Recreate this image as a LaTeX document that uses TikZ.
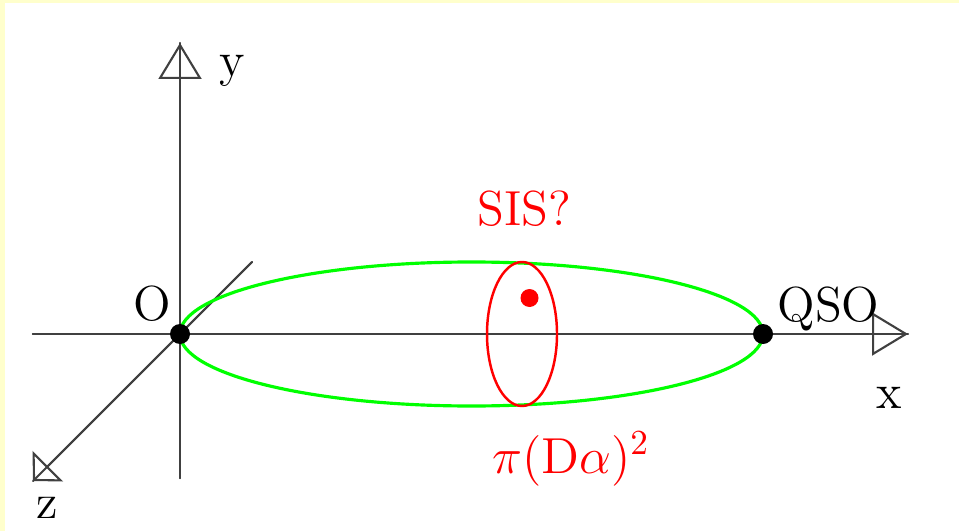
\documentclass[tikz,border=0pt]{standalone}
\usepackage{tikz}
\usetikzlibrary{arrows.meta}
\usepackage{xcolor}
\definecolor{paleyellow}{RGB}{255,255,204}

\begin{document}
\begin{tikzpicture}[font=\fontsize{14}{17}\selectfont,line cap=round,
  axis/.style={black!75,line width=0.6pt},
  tip/.style={-{Triangle[open,length=#1,width=0.43cm]}},
  dot/.style={circle,fill,inner sep=0pt,minimum size=0.2cm}]
\useasboundingbox (0,0) rectangle (9.59,5.31);
\fill[paleyellow] (0,0) rectangle (9.59,5.31);
\fill[white] (0.05,0) rectangle (9.59,5.28);
% axes
\coordinate (xl) at (0.33,1.97);
\coordinate (xr) at (9.08,1.97);
\coordinate (yb) at (1.80,0.53);
\coordinate (yt) at (1.80,4.88);
\coordinate (zb) at (2.52,2.69);
\coordinate (zf) at (0.33,0.50);
\draw[axis] (xl) -- (xr);
\draw[axis,tip=0.36cm] (xl) -- (xr);
\draw[axis] (yb) -- (yt);
\draw[axis,tip=0.36cm] (yb) -- (yt);
\draw[axis] (zb) -- (zf);
\draw[axis,tip=0.21cm] (zb) -- (zf);
% beam and lens
\draw[green,line width=0.9pt] (4.715,1.97) ellipse (2.915 and 0.72);
\draw[red,line width=0.7pt] (5.22,1.97) ellipse (0.35 and 0.72);
\node[dot] (O) at (1.80,1.97) {};
\node[dot] (QSO) at (7.63,1.97) {};
\node[dot,red,minimum size=0.18cm] (SIS) at (5.295,2.33) {};
% labels
\node[anchor=base] (ylab) at (2.32,4.54) {y};
\node[anchor=base] (xlab) at (8.89,1.23) {x};
\node[anchor=base] (zlab) at (0.475,0.13) {z};
\node[anchor=base] (Olab) at (1.525,2.11) {O};
\node[anchor=base] (QSOlab) at (8.285,2.10) {QSO};
\node[anchor=base,red] (SISlab) at (5.245,3.06) {SIS?};
\node[anchor=base,red] (arealab) at (5.71,0.58) {$\pi(\mathrm{D}\alpha)^2$};
\end{tikzpicture}
\end{document}
